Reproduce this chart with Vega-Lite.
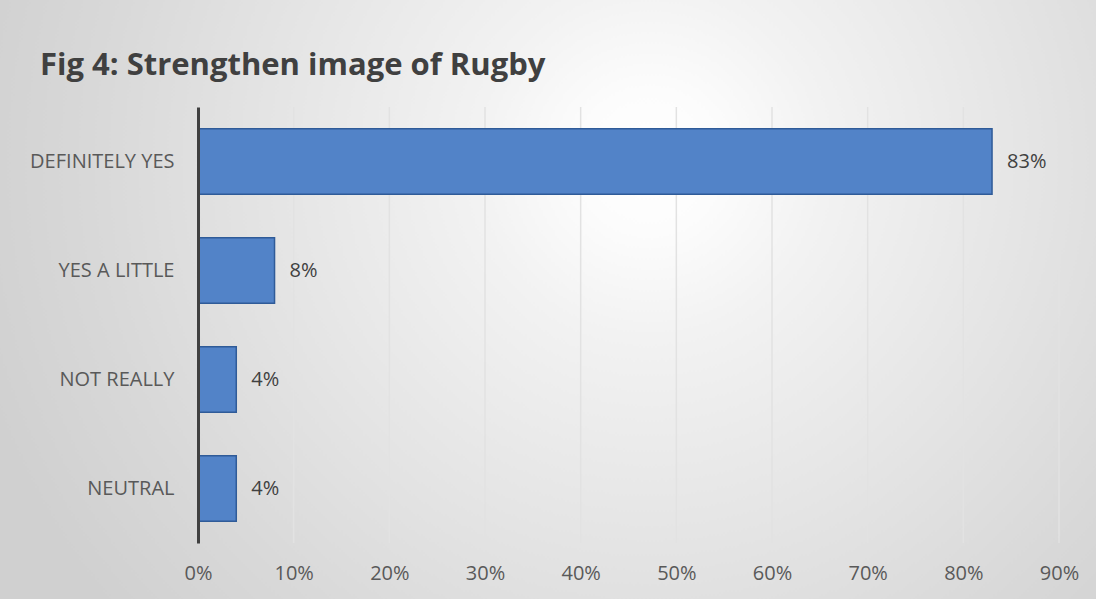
{
  "$schema": "https://vega.github.io/schema/vega-lite/v6.json",
  "autosize": "none",
  "width": 861,
  "height": 436,
  "padding": {"left": 198, "top": 107, "right": 37, "bottom": 56},
  "background": "#d0d0d0",
  "title": {
    "text": "Fig 4: Strengthen image of Rugby",
    "anchor": "start",
    "frame": "group",
    "dx": -158,
    "offset": -620,
    "font": "Open Sans",
    "fontSize": 31,
    "fontWeight": "bold",
    "color": "#404040",
    "zindex": 1
  },
  "config": {"view": {"stroke": null}},
  "data": {
    "values": [
      {"answer": "DEFINITELY YES", "share": 0.83},
      {"answer": "YES A LITTLE", "share": 0.08},
      {"answer": "NOT REALLY", "share": 0.04},
      {"answer": "NEUTRAL", "share": 0.04}
    ]
  },
  "layer": [
    {
      "data": {"values": [{}]},
      "mark": {
        "type": "point",
        "filled": true,
        "opacity": 1,
        "strokeWidth": 0,
        "shape": "circle",
        "size": 1960000,
        "fill": {
          "gradient": "radial",
          "x1": 0.5, "y1": 0.5, "r1": 0,
          "x2": 0.5, "y2": 0.5, "r2": 0.5,
          "stops": [
            {"offset": 0, "color": "#ffffff"},
            {"offset": 0.1, "color": "#fcfcfc"},
            {"offset": 0.25, "color": "#f2f2f2"},
            {"offset": 0.55, "color": "#e4e4e4"},
            {"offset": 0.8, "color": "#d8d8d8"},
            {"offset": 1, "color": "#d0d0d0"}
          ]
        }
      },
      "encoding": {
        "x": {"datum": 0.472, "type": "quantitative"},
        "y": {"datum": "DEFINITELY YES", "type": "nominal"}
      }
    },
    {
      "data": {"values": [{"tick": 0.1}, {"tick": 0.2}, {"tick": 0.3}, {"tick": 0.4}, {"tick": 0.5}, {"tick": 0.6}, {"tick": 0.7}, {"tick": 0.8}, {"tick": 0.9}]},
      "mark": {"type": "rule", "color": "#e2e2e2", "strokeWidth": 1.5},
      "encoding": {
        "x": {"field": "tick", "type": "quantitative"}
      }
    },
    {
      "mark": {"type": "bar", "fill": "#5283c8", "stroke": "#2f5b98", "strokeWidth": 1.5},
      "encoding": {
        "y": {
          "field": "answer",
          "type": "nominal",
          "sort": null,
          "scale": {"paddingInner": 0.4, "paddingOuter": 0.2},
          "axis": {
            "title": null,
            "ticks": false,
            "labelPadding": 24,
            "labelFont": "Open Sans",
            "labelFontSize": 20,
            "labelColor": "#595959",
            "domainColor": "#404040",
            "domainWidth": 3,
            "grid": false,
            "zindex": 1
          }
        },
        "x": {
          "field": "share",
          "type": "quantitative",
          "scale": {"domain": [0, 0.9], "nice": false},
          "axis": {
            "title": null,
            "values": [0, 0.1, 0.2, 0.3, 0.4, 0.5, 0.6, 0.7, 0.8, 0.9],
            "format": ".0%",
            "ticks": false,
            "domain": false,
            "labelPadding": 20,
            "labelFont": "Open Sans",
            "labelFontSize": 20,
            "labelColor": "#595959",
            "labelFlush": false,
            "grid": false,
            "zindex": 1
          }
        }
      }
    },
    {
      "mark": {"type": "text", "align": "left", "dx": 15, "font": "Open Sans", "fontSize": 20, "color": "#404040"},
      "encoding": {
        "y": {"field": "answer", "type": "nominal", "sort": null},
        "x": {"field": "share", "type": "quantitative"},
        "text": {"field": "share", "type": "quantitative", "format": ".0%"}
      }
    }
  ]
}
